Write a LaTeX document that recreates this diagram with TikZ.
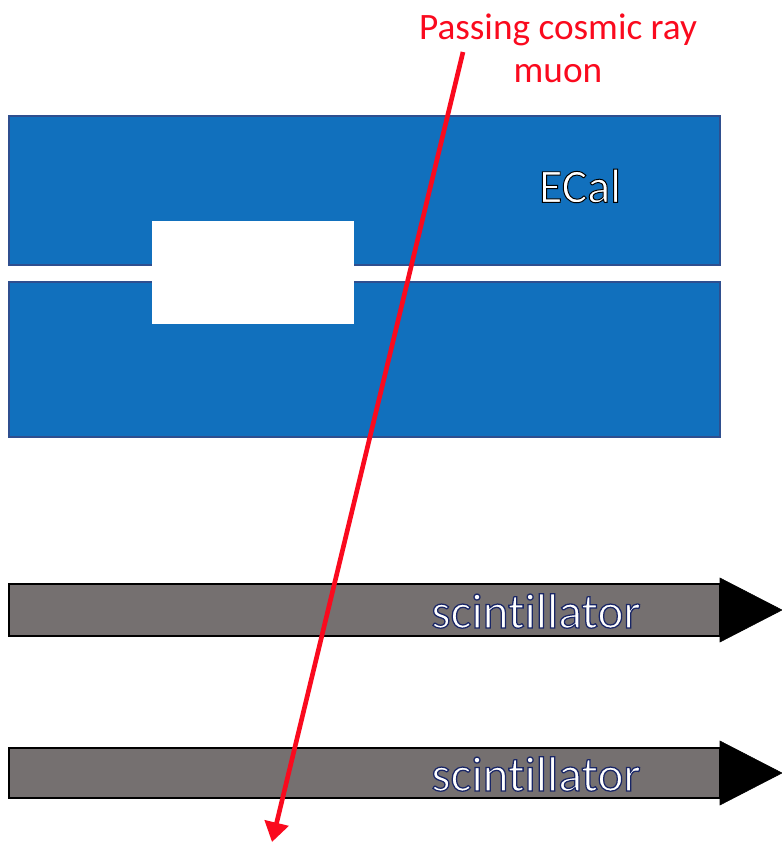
\documentclass[tikz,border=0pt]{standalone}
\usepackage{fontspec}
\setmainfont{Carlito}[Ligatures=NoCommon]
\usepackage{tikz}
\usetikzlibrary{arrows.meta,calc,positioning}
\usepackage{xcolor}
\definecolor{ecalblue}{RGB}{17,112,189}
\definecolor{ecaledge}{RGB}{47,79,143}
\definecolor{scintgray}{RGB}{117,112,112}
\definecolor{muonred}{RGB}{250,10,30}
% outlined text: white fill, coloured stroke
\newcommand{\outlinetext}[3]{\textcolor{white}{\special{pdf:literal direct 2 Tr #2 w #1 RG}#3\special{pdf:literal direct 0 Tr}}}
\tikzset{
  ecalblock/.style={fill=ecalblue, draw=ecaledge, line width=0.8pt},
  scintbar/.style={fill=scintgray, draw=black, line width=1.2pt},
  scinthead/.style={fill=black, draw=black},
  scintlabel/.style={font=\fontsize{35}{40}\selectfont, inner sep=0pt},
  muontrack/.style={muonred, line width=3.3pt, -{Triangle[width=17pt,length=14pt]}},
}
\begin{document}
\begin{tikzpicture}[x=0.025cm, y=-0.025cm]
\useasboundingbox (0,0) rectangle (782,843);
% ECal: two halves with a gap and a central hole
\draw[ecalblock] (9,116) rectangle (720,265);
\draw[ecalblock] (9,282) rectangle (720,437);
\fill[white] (152,221) rectangle (354,324);
\fill[white] (10,266) rectangle (719,281);
\node[font=\fontsize{34}{40}\selectfont, inner sep=0pt] (ecal) at (580,186)
  {\outlinetext{0 0 0}{0.7}{ECal}};
% Scintillator bars with readout direction
\foreach \top/\bot/\tip/\name in {584/636/610/upper, 748/798/773/lower}{
  \draw[scintbar] (9,\top) rectangle (720,\bot);
  \fill[scinthead] (720,\tip-32) -- (782,\tip) -- (720,\tip+32) -- cycle;
  \node[scintlabel] (\name) at (536,\tip+1)
    {\outlinetext{0.1 0.15 0.4}{0.9}{scintillator}};
}
% Muon track
\node[muonred, font=\fontsize{26.5}{30.6}\selectfont, align=center, inner sep=0pt]
  (muonlabel) at (558,48) {Passing cosmic ray\\muon};
\coordinate (trackin) at (463,52);
\coordinate (trackout) at (272,842);
\draw[muontrack] (trackin) -- (trackout);
\end{tikzpicture}
\end{document}
